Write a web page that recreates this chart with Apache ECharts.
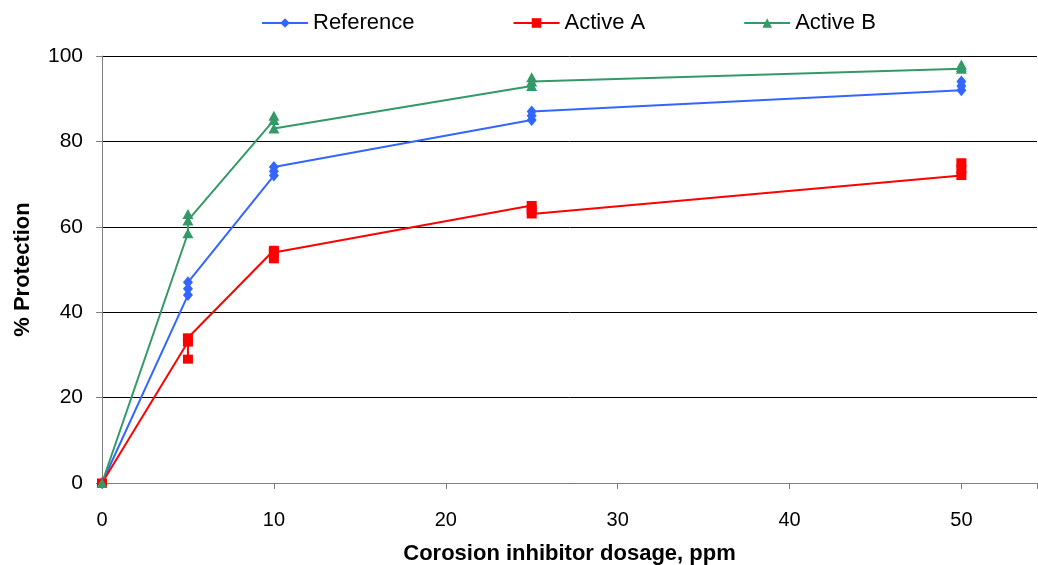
<!DOCTYPE html>
<html>
<head>
<meta charset="utf-8">
<script src="https://cdn.jsdelivr.net/npm/echarts@6/dist/echarts.min.js"></script>
<style>
  html, body { margin: 0; padding: 0; background: #fff; }
  #chart { width: 1038px; height: 565px; }
</style>
</head>
<body>
<div id="chart"></div>
<script>
// dosage (ppm), three replicate readings per dosage
var dosage    = [0, 5, 5, 5, 10, 10, 10, 25, 25, 25, 50, 50, 50];
var reference = [0, 44, 45.5, 47, 72, 73, 74, 85, 86, 87, 92, 94, 93];
var activeA   = [0, 33, 29, 34, 54.5, 52.5, 54, 65, 64, 63, 72, 75, 73.5];
var activeB   = [0, 58.5, 63, 61.5, 85, 86, 83, 93, 95, 94, 97, 98, 97.5];
var xTicks    = [0, 10, 20, 30, 40, 50];

function pairs(vals) {
    return dosage.map(function (x, i) { return [x, vals[i]]; });
}

var chart = echarts.init(document.getElementById('chart'));

var option = {
    animation: false,
    textStyle: { fontFamily: 'Liberation Sans, Arial, sans-serif' },
    legend: {
        left: 256,
        top: 7,
        itemWidth: 46,
        itemHeight: 12,
        itemGap: 98,
        textStyle: { fontSize: 22, color: '#000' },
        data: ['Reference', 'Active A', 'Active B']
    },
    grid: { left: 102, right: 1, top: 56, bottom: 82, outerBoundsMode: 'none' },
    xAxis: {
        type: 'value',
        min: 0,
        max: 54.4,
        interval: 10,
        name: 'Corosion inhibitor dosage, ppm',
        nameLocation: 'middle',
        nameGap: 60,
        nameTextStyle: { fontSize: 22, fontWeight: 'bold', color: '#000' },
        axisLine: { lineStyle: { color: '#808080', width: 1 } },
        axisTick: { show: true, length: 6, lineStyle: { color: '#808080' } },
        axisLabel: {
            fontSize: 20, color: '#000', margin: 27,
            formatter: function (v) { return xTicks.indexOf(v) >= 0 ? String(v) : ''; }
        },
        splitLine: { show: false }
    },
    yAxis: {
        type: 'value',
        min: 0,
        max: 100,
        interval: 20,
        name: '% Protection',
        nameLocation: 'middle',
        nameGap: 68,
        nameTextStyle: { fontSize: 22, fontWeight: 'bold', color: '#000' },
        axisLine: { show: true, lineStyle: { color: '#808080', width: 1 } },
        axisTick: { show: true, length: 6, lineStyle: { color: '#808080' } },
        axisLabel: { fontSize: 21, color: '#000', margin: 19 },
        splitLine: { show: true, lineStyle: { color: '#000', width: 1 } }
    },
    series: [
        {
            name: 'Reference',
            type: 'line',
            data: pairs(reference),
            symbol: 'diamond',
            symbolSize: [10, 12],
            color: '#3366ff',
            lineStyle: { width: 2, color: '#3366ff' },
            itemStyle: { color: '#3366ff' }
        },
        {
            name: 'Active A',
            type: 'line',
            data: pairs(activeA),
            symbol: 'rect',
            symbolSize: [10, 9],
            color: '#ff0000',
            lineStyle: { width: 2, color: '#ff0000' },
            itemStyle: { color: '#ff0000' }
        },
        {
            name: 'Active B',
            type: 'line',
            data: pairs(activeB),
            symbol: 'triangle',
            symbolSize: [11, 10],
            color: '#339966',
            lineStyle: { width: 2, color: '#339966' },
            itemStyle: { color: '#339966' }
        }
    ]
};

chart.setOption(option);
</script>
</body>
</html>
